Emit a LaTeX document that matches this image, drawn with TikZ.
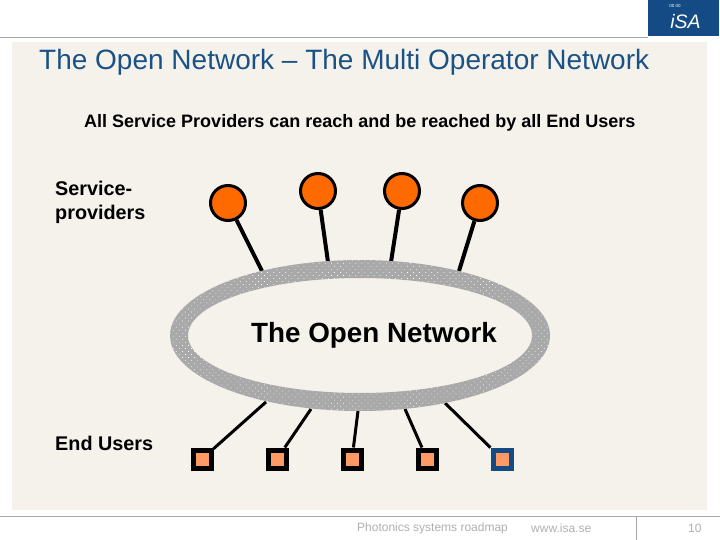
\documentclass[tikz,border=0pt]{standalone}
\usepackage{fontspec}
\setmainfont{Liberation Sans}
\usetikzlibrary{patterns.meta}
\definecolor{panel}{HTML}{F5F2EC}
\definecolor{ringgray}{HTML}{A9A9A9}
\definecolor{isablue}{HTML}{144B85}
\definecolor{titleblue}{HTML}{1B5285}
\definecolor{sporange}{HTML}{FF6A00}
\definecolor{ussalmon}{HTML}{FF9966}
\definecolor{rulegray}{HTML}{A8A8A8}
\definecolor{foot}{HTML}{B0B0B0}
\tikzset{
  x=1pt,y=-1pt,
  provider/.style={circle,draw=black,line width=3pt,fill=sporange,minimum size=35pt,inner sep=0pt},
  enduser/.style={rectangle,draw=black,line width=5pt,fill=ussalmon,minimum size=18pt,inner sep=0pt},
  thick link/.style={line width=4pt,black},
  thin link/.style={line width=3pt,black},
  label/.style={anchor=west,inner sep=0pt,font=\bfseries\fontsize{19.8}{24}\selectfont,align=left},
  footer/.style={anchor=west,inner sep=0pt,text=foot,font=\fontsize{12}{14}\selectfont},
  rule/.style={rulegray,line width=1pt},
  ring/.style={even odd rule}
}
\begin{document}
\begin{tikzpicture}
\useasboundingbox (0,0) rectangle (720,540);
\fill[white] (0,0) rectangle (720,540);
\fill[panel] (12,42) rectangle (707,510);
% rules
\coordinate (tl) at (0,37.5); \coordinate (tr) at (648,37.5);
\draw[rule] (tl) -- (tr);
\coordinate (bl) at (0,516); \coordinate (br) at (720,516);
\draw[rule] (bl) -- (br);
\coordinate (vt) at (636,516); \coordinate (vb) at (636,540);
\draw[rule] (vt) -- (vb);
% logo
\fill[isablue] (648,0) rectangle (719,36);
\node[inner sep=0pt,text=white,font=\fontsize{19.5}{20}\selectfont\itshape] (logo) at (685.5,22) {iSA};
\node[inner sep=0pt,text=white,font=\fontsize{4.5}{5}\selectfont] (logotop) at (675,5.5) {00 00};
% title
\node[anchor=west,inner sep=0pt,font=\fontsize{28}{32}\selectfont,text=titleblue] (title) at (39,62.5) {The Open Network -- The Multi Operator Network};
\node[label,font=\bfseries\fontsize{18}{22}\selectfont] (sub) at (84,122.5) {All Service Providers can reach and be reached by all End Users};
% anchors on ring
\coordinate (a1) at (262,271); \coordinate (a2) at (328,262); \coordinate (a3) at (391,262); \coordinate (a4) at (459,271);
\coordinate (b1) at (266,402); \coordinate (b2) at (311,409); \coordinate (b3) at (358,411); \coordinate (b4) at (405,409); \coordinate (b5) at (445,403);
% providers
\node[provider] (p1) at (228,203) {};
\node[provider] (p2) at (318,191) {};
\node[provider] (p3) at (402,191) {};
\node[provider] (p4) at (480,203) {};
\draw[thick link] (p1) -- (a1);
\draw[thick link] (p2) -- (a2);
\draw[thick link] (p3) -- (a3);
\draw[thick link] (p4) -- (a4);
% users
\node[enduser] (u1) at (202,459) {};
\node[enduser] (u2) at (277,459) {};
\node[enduser] (u3) at (352,459) {};
\node[enduser] (u4) at (427,459) {};
\node[enduser,draw=isablue] (u5) at (502,459) {};
\draw[thin link] (u1) -- (b1);
\draw[thin link] (u2) -- (b2);
\draw[thin link] (u3) -- (b3);
\draw[thin link] (u4) -- (b4);
\draw[thin link] (u5) -- (b5);
% ring
\fill[ringgray,ring] (360,335.5) ellipse [x radius=190,y radius=75.5] (360,335.5) ellipse [x radius=172,y radius=57.5];
\fill[pattern={Dots[distance=4.3pt,radius=0.5pt,angle=45]},pattern color=white,ring] (360,335.5) ellipse [x radius=190,y radius=75.5] (360,335.5) ellipse [x radius=172,y radius=57.5];
\node[inner sep=0pt,font=\bfseries\fontsize{27.8}{32}\selectfont] (net) at (374,335) {The Open Network};
% labels
\node[label] (sp) at (55,202.5) {Service-\\providers};
\node[label] (eu) at (55,443) {End Users};
% footer
\node[footer] (f1) at (357,528) {Photonics systems roadmap};
\node[footer] (f2) at (531,528) {www.isa.se};
\node[footer] (f3) at (688,528) {10};
\end{tikzpicture}
\end{document}
